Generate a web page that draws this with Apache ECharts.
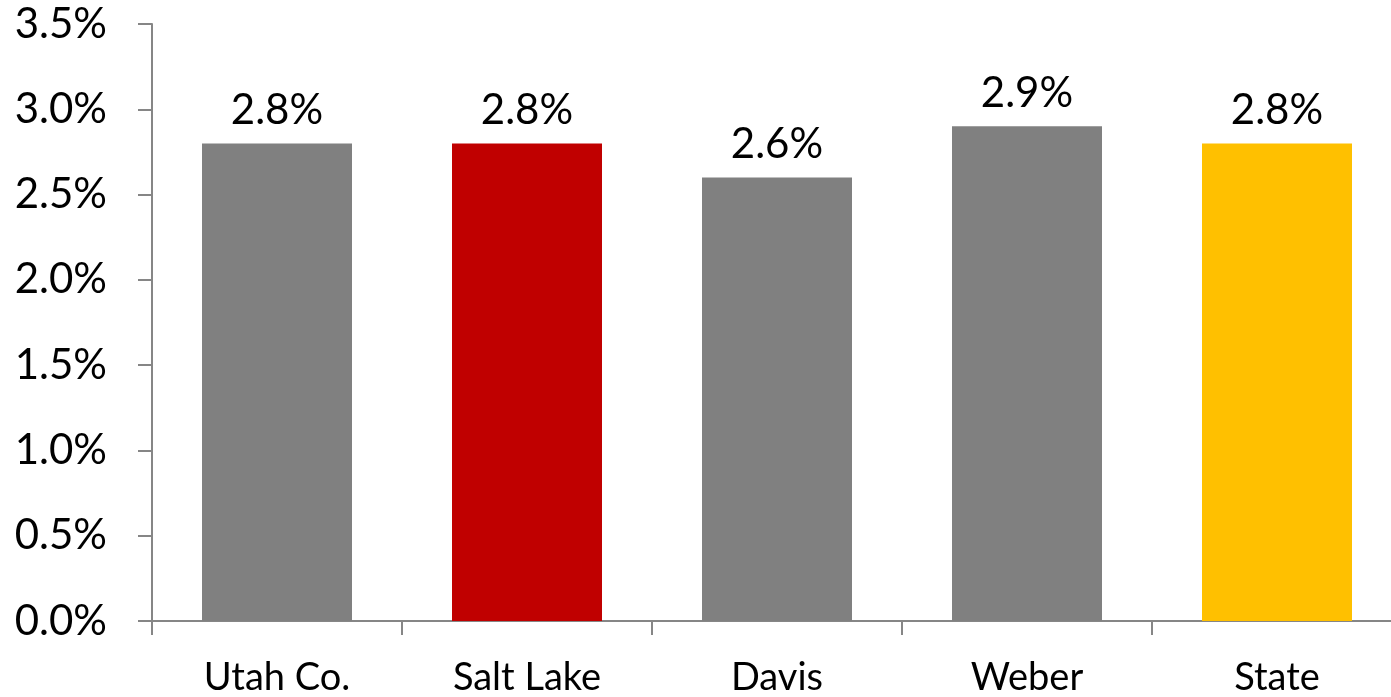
<!DOCTYPE html>
<html>
<head>
<meta charset="utf-8">
<script src="https://cdn.jsdelivr.net/npm/echarts@6/dist/echarts.min.js"></script>
<style>
html,body{margin:0;padding:0;background:#fff;overflow:hidden;}
#chart{width:1402px;height:697px;}
</style>
</head>
<body>
<div id="chart"></div>
<script>
const categories = ['Utah Co.', 'Salt Lake', 'Davis', 'Weber', 'State'];
const values = [2.8, 2.8, 2.6, 2.9, 2.8];
const barColors = ['#808080', '#C00000', '#808080', '#808080', '#FFC000'];
const yTicks = { min: 0, max: 3.5, interval: 0.5 };

const chart = echarts.init(document.getElementById('chart'));
const FONT = 'Lato';
chart.setOption({
  animation: false,
  grid: { left: 152, top: 24, width: 1250, height: 600, containLabel: false },
  xAxis: {
    type: 'category',
    data: categories,
    axisLine: { show: true, lineStyle: { color: '#868686', width: 2 } },
    axisTick: { show: true, length: 14, lineStyle: { color: '#868686', width: 2 } },
    axisLabel: { color: '#000', fontSize: 38, fontFamily: FONT, margin: 38 },
    splitLine: { show: false }
  },
  yAxis: {
    type: 'value',
    min: yTicks.min, max: yTicks.max, interval: yTicks.interval,
    axisLine: { show: true, lineStyle: { color: '#868686', width: 2 } },
    axisTick: { show: true, length: 14, lineStyle: { color: '#868686', width: 2 } },
    axisLabel: { color: '#000', fontSize: 42, fontFamily: FONT, margin: 45,
      formatter: v => v.toFixed(1) + '%' },
    splitLine: { show: false }
  },
  series: [{
    type: 'bar',
    barWidth: '60%',
    data: values.map((v, i) => ({ value: v, itemStyle: { color: barColors[i] } })),
    label: { show: true, position: 'top', distance: 12, color: '#000', fontSize: 42, fontFamily: FONT,
      formatter: p => p.value.toFixed(1) + '%' }
  }]
});
</script>
</body>
</html>
